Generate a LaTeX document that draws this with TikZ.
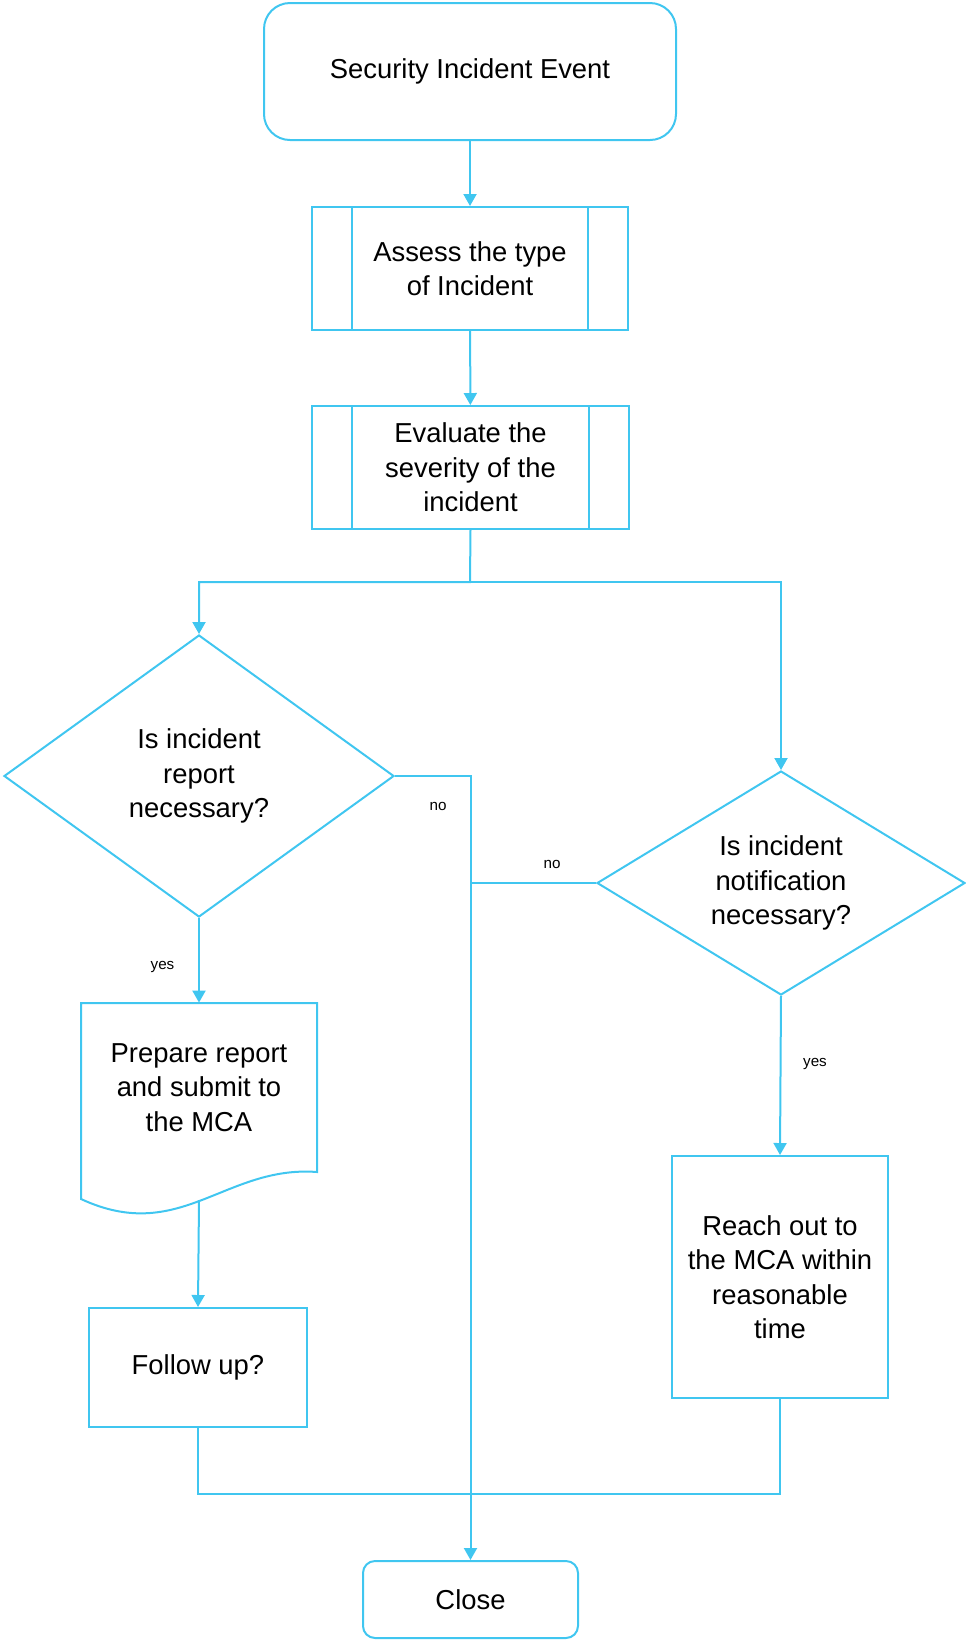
\documentclass[tikz,border=0pt]{standalone}
\usepackage{fontspec}
\setmainfont{Liberation Sans}
\usetikzlibrary{shapes.geometric, arrows.meta}
\definecolor{flowblue}{RGB}{64,198,240}

\begin{document}
\begin{tikzpicture}[x=0.5pt, y=-0.5pt,
                every node/.style={font=\fontsize{13.7}{17.2}\selectfont, text=black, align=center},
                box/.style={draw=flowblue, line width=1pt, inner sep=0pt},
                term/.style={box, rounded corners=13pt},
                subproc/.style={box, path picture={
                        \draw[flowblue, line width=1pt] ([xshift=20pt]path picture bounding box.north west) -- ([xshift=20pt]path picture bounding box.south west);
                        \draw[flowblue, line width=1pt] ([xshift=-20pt]path picture bounding box.north east) -- ([xshift=-20pt]path picture bounding box.south east);}},
                decision/.style={box, diamond, shape aspect=1.6},
                lbl/.style={font=\fontsize{7.6}{9}\selectfont},
                link/.style={draw=flowblue, line width=1pt},
                arr/.style={link, -{Triangle[length=6pt, width=6.5pt]}}]
                        \useasboundingbox (0, 0) rectangle (965, 1640);

                        \node[term, minimum width=206pt, minimum height=68.5pt] (start) at (470, 71.5) {Security Incident Event};
                        \node[subproc, minimum width=158pt, minimum height=61.5pt] (assess) at (470, 268.5) {Assess the type\\of Incident};
                        \node[subproc, minimum width=158.5pt, minimum height=61.5pt] (eval) at (470.5, 467.5) {Evaluate the\\severity of the\\incident};
                        \coordinate (split) at (470, 582);

                        \node[decision, minimum width=195pt, minimum height=141pt] (askrep) at (199, 776) {Is incident\\report\\necessary?};
                        \node[decision, minimum width=184pt, minimum height=112pt] (asknot) at (781, 883) {Is incident\\notification\\necessary?};

                        \draw[link] (81, 1003) -- (317, 1003) -- (317, 1172) .. controls (225, 1165) and (180, 1245) .. (81, 1199) -- cycle;
                        \node[inner sep=0pt, minimum width=118pt, minimum height=84.5pt] (prep) at (199, 1087.5) {Prepare report\\and submit to\\the MCA};
                        \coordinate (prepout) at (199, 1200);

                        \node[box, minimum width=109pt, minimum height=59.5pt] (follow) at (198, 1367.5) {Follow up?};
                        \node[box, minimum width=108pt, minimum height=121pt] (reach) at (780, 1277) {Reach out to\\the MCA within\\reasonable\\time};
                        \node[term, rounded corners=6pt, minimum width=107.5pt, minimum height=38.5pt] (close) at (470.5, 1599.5) {Close};
                        \coordinate (merge) at (470, 1494);

                        \draw[arr] (start) -- (assess);
                        \draw[arr] (assess) -- (eval);
                        \draw[arr] (eval.south) -- (split) -| (askrep.north);
                        \draw[arr] (split) -| (asknot.north);

                        \draw[arr] (askrep.east) -| (close.north);
                        \draw[link] (asknot.west) -- (asknot.west -| close.north);
                        \draw[arr] (askrep.south) -- (prep.north);
                        \draw[arr] (prepout) -- (follow.north);
                        \draw[arr] (asknot.south) -- (reach.north);
                        \draw[link] (follow.south) |- (merge);
                        \draw[link] (reach.south) |- (merge);

                        \node[lbl] (noreport) at (438, 806) {no};
                        \node[lbl] (nonotif) at (552, 864.5) {no};
                        \node[lbl] (yesreport) at (162.5, 967) {yes};
                        \node[lbl] (yesnotif) at (815, 1064) {yes};
                \end{tikzpicture}
\end{document}
